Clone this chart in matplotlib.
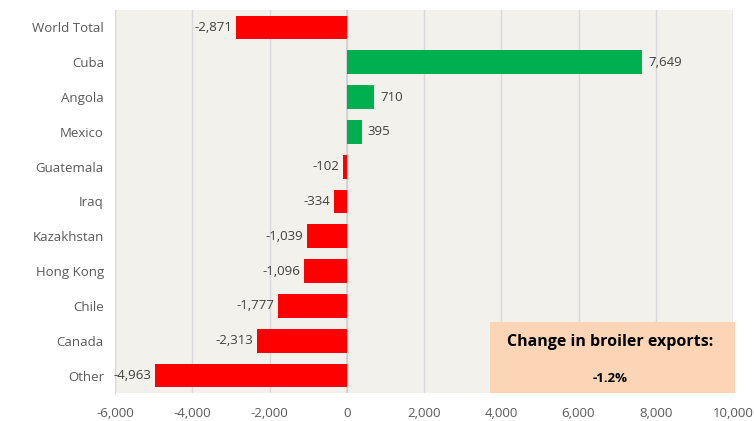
import matplotlib.pyplot as plt
from matplotlib.ticker import FuncFormatter
from matplotlib.patches import Rectangle

categories = ["World Total", "Cuba", "Angola", "Mexico", "Guatemala", "Iraq",
              "Kazakhstan", "Hong Kong", "Chile", "Canada", "Other"]
values = [-2871, 7649, 710, 395, -102, -334, -1039, -1096, -1777, -2313, -4963]
xticks = list(range(-6000, 10001, 2000))

plt.rcParams['font.family'] = ['Open Sans', 'DejaVu Sans']
fig = plt.figure(figsize=(7.54, 4.21), dpi=100)
ax = fig.add_axes([115/754, 1-393/421, (733-115)/754, (393-10)/421])
ax.set_facecolor('#F2F1EC')

ypos = list(range(len(categories)))
colors = ['#00B050' if v > 0 else '#FF0000' for v in values]
ax.barh(ypos, values, height=0.68, color=colors, zorder=3)
for y, v in zip(ypos, values):
    if v > 0:
        ax.text(v + 150, y, f"{v:,}", va='center', ha='left', fontsize=9.5, color='#404040', zorder=4)
    else:
        ax.text(v - 100, y, f"{v:,}".replace("-", "-"), va='center', ha='right', fontsize=9.5, color='#404040', zorder=4)

ax.set_xlim(-6000, 10000)
ax.set_ylim(len(categories) - 0.5, -0.5)
ax.set_xticks(xticks)
ax.xaxis.set_major_formatter(FuncFormatter(lambda x, p: f"{int(x):,}"))
ax.set_yticks(ypos)
ax.set_yticklabels(categories)
ax.tick_params(axis='both', length=0, labelsize=9.5, colors='#595959')
ax.tick_params(axis='x', pad=10)
ax.tick_params(axis='y', pad=8)
ax.grid(axis='x', color='#D9D9D9', linewidth=1, zorder=0)
ax.axvline(0, color='#D0D0D0', linewidth=1.2, zorder=2)
for s in ['top', 'right', 'bottom']:
    ax.spines[s].set_visible(False)
ax.spines['left'].set_color('#D9D9D9')

# annotation box
box = Rectangle((490/754, 1-393/421), (735-490)/754, (393-322)/421,
                transform=fig.transFigure, facecolor='#FBD5B5', edgecolor='none', zorder=5)
fig.add_artist(box)
fig.text(610/754, 1-342/421, "Change in broiler exports:", ha='center', va='center',
         fontsize=11.5, fontweight='bold', color='black', zorder=6)
fig.text(610/754, 1-378/421, "-1.2%", ha='center', va='center',
         fontsize=9.5, fontweight='bold', color='black', zorder=6)

fig.savefig("out.png", dpi=100)
